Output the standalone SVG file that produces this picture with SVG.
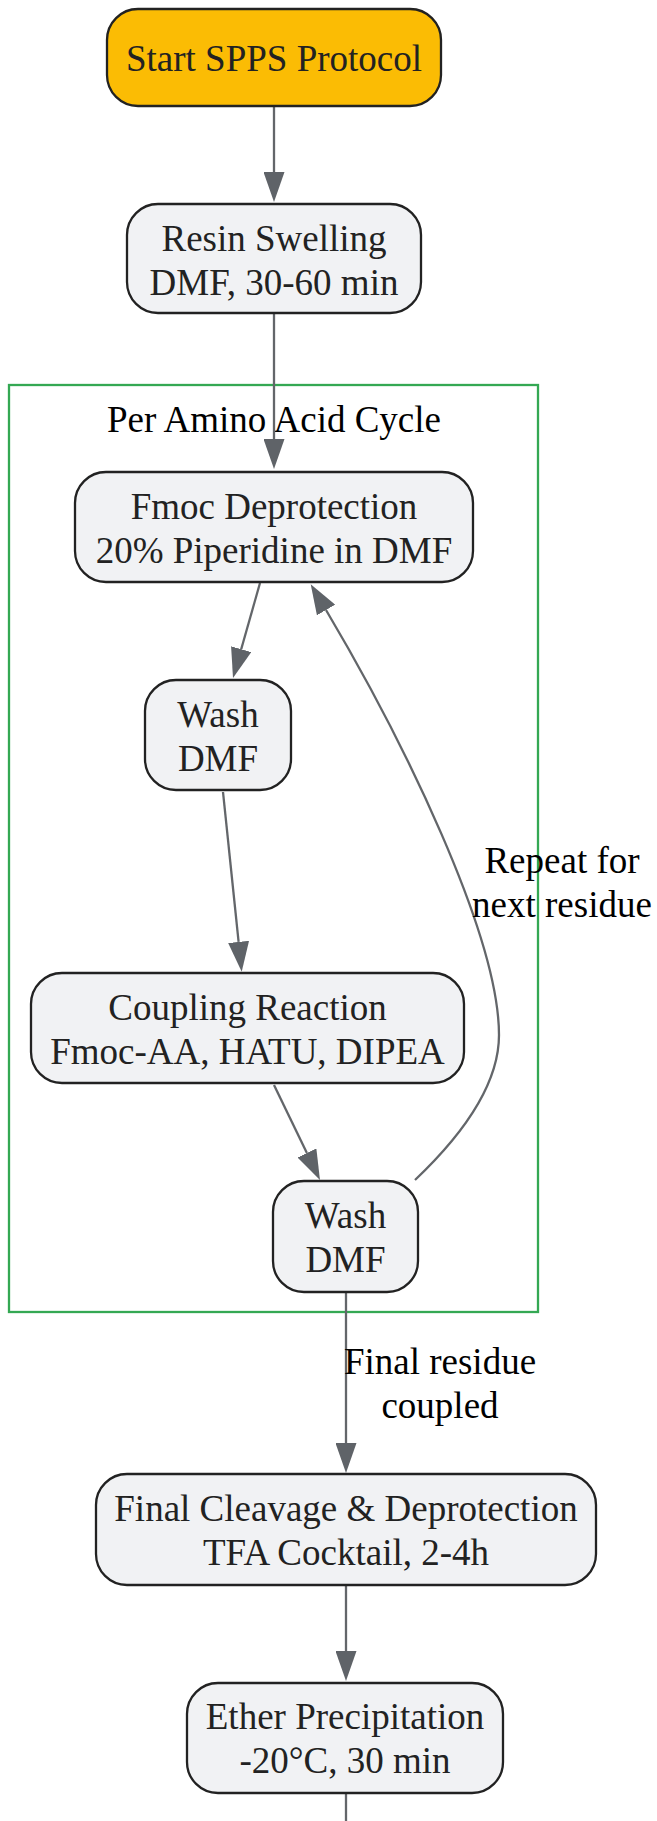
<svg xmlns="http://www.w3.org/2000/svg" width="657" height="1821" viewBox="0 0 657 1821">
<style>
.node rect{fill:#f1f2f4;stroke:#222222;stroke-width:2.3}
#start rect{fill:#fbbc04}
.node text{font-family:"Liberation Serif","Times New Roman",serif;font-size:37px;fill:#222222;text-anchor:middle}
.lbl{font-family:"Liberation Serif","Times New Roman",serif;font-size:37px;fill:#000000;text-anchor:middle}
.edge{fill:none;stroke:#63666a;stroke-width:2.3}
.cluster rect{fill:none;stroke:#34a853;stroke-width:2.3}
</style>
<defs>
<marker id="arrow" markerUnits="userSpaceOnUse" viewBox="0 0 30 21" refX="0" refY="10.5" markerWidth="30" markerHeight="21" orient="auto">
<path d="M0,0 L30,10.5 L0,21 Z" fill="#5f6368"/>
</marker>
</defs>
<rect width="657" height="1821" fill="#ffffff"/>
<g id="cluster-cycle" class="cluster">
<rect x="9" y="385" width="529" height="927"/>
<text class="lbl" x="274" y="432">Per Amino Acid Cycle</text>
</g>
<g id="connectors">
<path class="edge" d="M274,106 L274,172" marker-end="url(#arrow)"/>
<path class="edge" d="M274,313 L274,439" marker-end="url(#arrow)"/>
<path class="edge" d="M260,583 L241.2,649.2" marker-end="url(#arrow)"/>
<path class="edge" d="M223,792 L238.6,941.9" marker-end="url(#arrow)"/>
<path class="edge" d="M274,1085 L306.9,1153" marker-end="url(#arrow)"/>
<path class="edge" d="M415,1180 C455,1142 499,1090 499,1035 C499,935 402.5,739 326,610" marker-end="url(#arrow)"/>
<path class="edge" d="M346,1292 L346,1443" marker-end="url(#arrow)"/>
<path class="edge" d="M346,1585 L346,1651" marker-end="url(#arrow)"/>
<path class="edge" d="M346,1793 L346,1821"/>
<text class="lbl" x="562" y="873">Repeat for</text>
<text class="lbl" x="562" y="917">next residue</text>
<text class="lbl" x="440" y="1374">Final residue</text>
<text class="lbl" x="440" y="1418">coupled</text>
</g>
<g id="start" class="node">
<rect x="107" y="9" width="334" height="97" rx="31" ry="31"/>
<text x="274" y="71">Start SPPS Protocol</text>
</g>
<g id="resin" class="node">
<rect x="127" y="204" width="294" height="109" rx="31" ry="31"/>
<text x="274" y="251">Resin Swelling</text>
<text x="274" y="295">DMF, 30-60 min</text>
</g>
<g id="deprotect" class="node">
<rect x="75" y="472" width="398" height="110" rx="31" ry="31"/>
<text x="274" y="519">Fmoc Deprotection</text>
<text x="274" y="563">20% Piperidine in DMF</text>
</g>
<g id="wash1" class="node">
<rect x="145" y="680" width="146" height="110" rx="31" ry="31"/>
<text x="218" y="727">Wash</text>
<text x="218" y="771">DMF</text>
</g>
<g id="coupling" class="node">
<rect x="31" y="973" width="433" height="110" rx="31" ry="31"/>
<text x="247.5" y="1020">Coupling Reaction</text>
<text x="247.5" y="1064">Fmoc-AA, HATU, DIPEA</text>
</g>
<g id="wash2" class="node">
<rect x="273" y="1181" width="145" height="111" rx="31" ry="31"/>
<text x="345.5" y="1228">Wash</text>
<text x="345.5" y="1272">DMF</text>
</g>
<g id="cleavage" class="node">
<rect x="96" y="1474" width="500" height="111" rx="31" ry="31"/>
<text x="346" y="1521">Final Cleavage &amp; Deprotection</text>
<text x="346" y="1565">TFA Cocktail, 2-4h</text>
</g>
<g id="ether" class="node">
<rect x="187" y="1683" width="316" height="110" rx="31" ry="31"/>
<text x="345" y="1729">Ether Precipitation</text>
<text x="345" y="1773">-20°C, 30 min</text>
</g>
</svg>
